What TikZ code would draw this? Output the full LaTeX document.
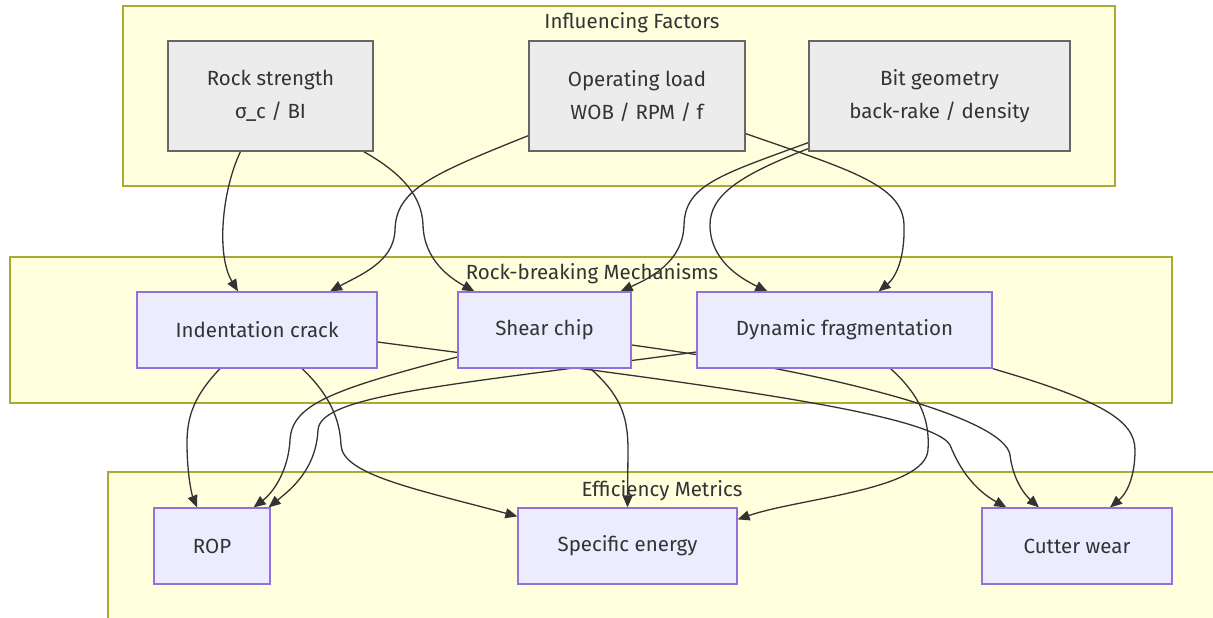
\documentclass[tikz,border=0pt]{standalone}
\usepackage{fontspec}
\setmainfont{Fira Sans}
\usetikzlibrary{arrows.meta}
\definecolor{clfill}{HTML}{FFFFDE}
\definecolor{clline}{HTML}{AAAA33}
\definecolor{facfill}{HTML}{ECECEC}
\definecolor{facline}{HTML}{666666}
\definecolor{mfill}{HTML}{ECECFF}
\definecolor{mline}{HTML}{9370DB}
\definecolor{txt}{HTML}{333333}
\pgfdeclarelayer{bg}
\pgfdeclarelayer{edges}
\pgfsetlayers{bg,edges,main}
\tikzset{
  cluster/.style={draw=clline, fill=clfill, line width=1.2pt},
  ctitle/.style={text=txt, font=\fontsize{20.5}{22}\selectfont, inner sep=0pt},
  facbox/.style={draw=facline, fill=facfill, line width=1.2pt, text=txt, align=center,
    font=\fontsize{20.5}{33}\selectfont, inner sep=0pt, minimum height=110pt},
  mbox/.style={draw=mline, fill=mfill, line width=1.2pt, text=txt, align=center,
    font=\fontsize{20.5}{24}\selectfont, inner sep=0pt, minimum height=76pt},
  link/.style={draw=txt, line width=1.3pt, -{Triangle[length=12pt,width=10pt]}}
}
\begin{document}
\begin{tikzpicture}[x=1pt,y=-1pt]
\useasboundingbox (0,0) rectangle (1213,618);
% clusters
\begin{pgfonlayer}{bg}
\fill[white] (0,0) rectangle (1213,618);
\draw[cluster] (123,6) rectangle (1115,186);
\node[ctitle] (tf) at (632,23) {Influencing Factors};
\draw[cluster] (10,257) rectangle (1172,403);
\node[ctitle] (tm) at (592,274) {Rock-breaking Mechanisms};
\draw[cluster] (108,472) rectangle (1216,622);
\node[ctitle] (te) at (662,491) {Efficiency Metrics};
\end{pgfonlayer}
% nodes
\node[facbox, minimum width=205pt] (rock) at (270.5,96) {Rock strength\\σ\_c / BI};
\node[facbox, minimum width=216pt] (op) at (637,96) {Operating load\\WOB / RPM / f};
\node[facbox, minimum width=261pt] (bit) at (939.5,96) {Bit geometry\\back-rake / density};
\node[mbox, minimum width=240pt] (ind) at (257,330) {Indentation crack};
\node[mbox, minimum width=173pt] (shr) at (544.5,330) {Shear chip};
\node[mbox, minimum width=295pt] (dyn) at (844.5,330) {Dynamic fragmentation};
\node[mbox, minimum width=116pt] (rop) at (212,546) {ROP};
\node[mbox, minimum width=219pt] (spe) at (627.5,546) {Specific energy};
\node[mbox, minimum width=190pt] (cut) at (1077,546) {Cutter wear};
% edges
\begin{pgfonlayer}{edges}
\draw[link] ([xshift=-30pt]rock.south) .. controls (222,190) and (216,255) .. ([xshift=-19pt]ind.north);
\draw[link] ([xshift=-10pt]rock.south east) .. controls (400,172) and (422,195) .. (423,225) .. controls (424,260) and (450,278) .. ([xshift=17pt]shr.north west);
\draw[link] ([yshift=16pt]op.south west) .. controls (430,175) and (396,190) .. (395,230) .. controls (394,262) and (360,275) .. ([xshift=73pt]ind.north);
\draw[link] ([yshift=18pt]op.south east) .. controls (850,170) and (903,185) .. (904,225) .. controls (905,260) and (895,278) .. ([xshift=34pt]dyn.north);
\draw[link] ([yshift=9pt]bit.south west) .. controls (720,175) and (685,185) .. (684,225) .. controls (683,262) and (650,278) .. ([xshift=-11pt]shr.north east);
\draw[link] ([yshift=3pt]bit.south west) .. controls (740,175) and (710,195) .. (710,225) .. controls (710,260) and (740,278) .. ([xshift=71pt]dyn.north west);
% to metrics
\draw[link] ([xshift=-37pt]ind.south) .. controls (195,395) and (187,415) .. (187,443) .. controls (187,475) and (192,495) .. ([xshift=-15pt]rop.north);
\draw[link] ([xshift=45pt]ind.south) .. controls (330,395) and (340,420) .. (341,445) .. controls (342,475) and (420,490) .. ([yshift=-9pt]spe.north west);
\draw[link] ([yshift=-12pt]ind.east) .. controls (650,378) and (930,410) .. (950,445) .. controls (960,470) and (975,490) .. ([xshift=25pt]cut.north west);
\draw[link] ([yshift=-27pt]shr.west) .. controls (330,390) and (292,405) .. (290,440) .. controls (288,475) and (270,495) .. ([xshift=-17pt]rop.north east);
\draw[link] ([xshift=46pt]shr.south) .. controls (620,395) and (628,415) .. (628,450) -- (spe.north);
\draw[link] ([yshift=-15pt]shr.east) .. controls (850,375) and (1005,420) .. (1010,455) .. controls (1013,480) and (1025,495) .. ([xshift=-38pt]cut.north);
\draw[link] ([yshift=-22pt]dyn.west) .. controls (450,385) and (320,395) .. (318,430) .. controls (316,470) and (290,490) .. ([xshift=-2pt]rop.north east);
\draw[link] ([xshift=46pt]dyn.south) .. controls (920,395) and (930,420) .. (928,450) .. controls (925,490) and (800,498) .. ([yshift=-12pt]spe.north east);
\draw[link] (dyn.south east) .. controls (1100,400) and (1135,420) .. (1135,450) .. controls (1135,480) and (1125,495) .. ([xshift=33pt]cut.north);
\end{pgfonlayer}
\end{tikzpicture}
\end{document}
